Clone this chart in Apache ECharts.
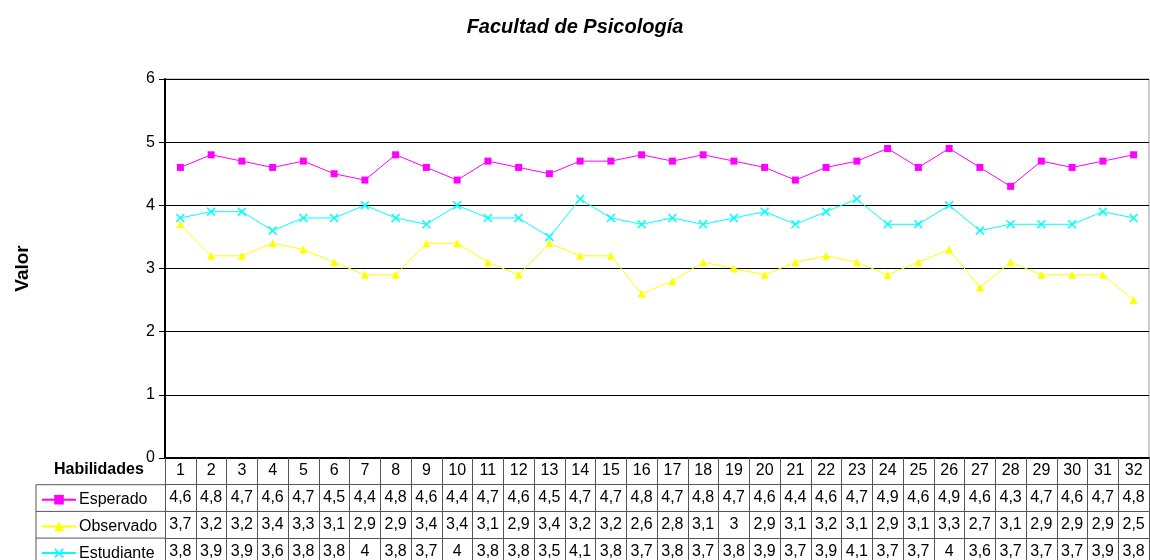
<!DOCTYPE html>
<html>
<head>
<meta charset="utf-8">
<script src="https://cdn.jsdelivr.net/npm/echarts@6/dist/echarts.min.js"></script>
<style>
  html, body { margin: 0; padding: 0; background: #fff; }
  #main { width: 1150px; height: 560px; }
</style>
</head>
<body>
<div id="main"></div>
<script>
let mychart = echarts.init(document.getElementById('main'));

let habilidades = []
for (let i = 1; i <= 32; i++) habilidades.push(String(i))

let seriesNames = ['Esperado', 'Observado', 'Estudiante']
let esperado = [4.6, 4.8, 4.7, 4.6, 4.7, 4.5, 4.4, 4.8, 4.6, 4.4, 4.7, 4.6, 4.5, 4.7, 4.7, 4.8,
    4.7, 4.8, 4.7, 4.6, 4.4, 4.6, 4.7, 4.9, 4.6, 4.9, 4.6, 4.3, 4.7, 4.6, 4.7, 4.8]
let observado = [3.7, 3.2, 3.2, 3.4, 3.3, 3.1, 2.9, 2.9, 3.4, 3.4, 3.1, 2.9, 3.4, 3.2, 3.2, 2.6,
    2.8, 3.1, 3, 2.9, 3.1, 3.2, 3.1, 2.9, 3.1, 3.3, 2.7, 3.1, 2.9, 2.9, 2.9, 2.5]
let estudiante = [3.8, 3.9, 3.9, 3.6, 3.8, 3.8, 4, 3.8, 3.7, 4, 3.8, 3.8, 3.5, 4.1, 3.8, 3.7,
    3.8, 3.7, 3.8, 3.9, 3.7, 3.9, 4.1, 3.7, 3.7, 4, 3.6, 3.7, 3.7, 3.7, 3.9, 3.8]

let font = 'Arial, "Liberation Sans", sans-serif'
let crossIcon = 'path://M0,1.2L1.2,0L5,3.8L8.8,0L10,1.2L6.2,5L10,8.8L8.8,10L5,6.2L1.2,10L0,8.8L3.8,5Z'

// grid geometry
let gLeft = 165, gRight = 1, gTop = 79, gBottom = 102
let axisY = 560 - gBottom
let rowH = 26.7
let fmt = v => String(v).replace('.', ',')

// one category axis per table row, stacked under the plot
function tableAxis(offset, tickLen, values, lineColor) {
    return {
        type: 'category',
        data: habilidades,
        position: 'bottom',
        offset: offset,
        boundaryGap: true,
        axisLine: { show: true, lineStyle: { color: lineColor, width: 1 } },
        axisTick: { show: true, interval: 0, length: tickLen, lineStyle: { color: '#555' } },
        axisLabel: {
            interval: 0,
            margin: 5,
            fontFamily: font,
            fontSize: 16,
            color: '#000',
            formatter: values ? (v, i) => fmt(values[i]) : null
        },
        splitLine: { show: false }
    }
}

function legendRow(name, i) {
    return {
        orient: 'horizontal',
        left: 36,
        top: axisY + rowH * (i + 1) + 2,
        itemWidth: 34,
        itemHeight: 12,
        itemGap: 0,
        textStyle: { fontFamily: font, fontSize: 16, color: '#000', padding: [0, 0, 0, -2] },
        data: [name]
    }
}

let option = {
    animation: false,
    backgroundColor: '#fff',
    title: {
        text: 'Facultad de Psicología',
        left: 'center',
        top: 12,
        textStyle: { fontFamily: font, fontSize: 20, fontWeight: 'bold', fontStyle: 'italic', color: '#000' }
    },
    legend: seriesNames.map(legendRow),
    grid: {
        left: gLeft, right: gRight, top: gTop, bottom: gBottom,
        show: true, borderColor: '#999', borderWidth: 1
    },
    xAxis: [
        Object.assign(tableAxis(0, rowH, null, '#000'), {
            axisLine: { show: true, lineStyle: { color: '#000', width: 2 } }
        }),
        tableAxis(rowH, rowH, esperado, '#555'),
        tableAxis(rowH * 2, rowH, observado, '#555'),
        tableAxis(rowH * 3, 24, estudiante, '#555')
    ],
    yAxis: {
        type: 'value',
        min: 0,
        max: 6,
        interval: 1,
        name: 'Valor',
        nameLocation: 'middle',
        nameGap: 133,
        nameTextStyle: { fontFamily: font, fontSize: 19, fontWeight: 'bold', color: '#000' },
        axisLine: { show: true, lineStyle: { color: '#000', width: 2 } },
        axisTick: { show: true, length: 6, lineStyle: { color: '#000' } },
        axisLabel: { fontFamily: font, fontSize: 16, color: '#000', margin: 10 },
        splitLine: { show: true, lineStyle: { color: '#000', width: 1 } }
    },
    series: [
        {
            name: 'Esperado',
            type: 'line',
            data: esperado,
            symbol: 'rect',
            symbolSize: 7,
            itemStyle: { color: '#ff00ff' },
            lineStyle: { color: '#ff00ff', width: 1 }
        },
        {
            name: 'Observado',
            type: 'line',
            data: observado,
            symbol: 'triangle',
            symbolSize: 8,
            itemStyle: { color: '#ffff00' },
            lineStyle: { color: '#ffff00', width: 1 }
        },
        {
            name: 'Estudiante',
            type: 'line',
            data: estudiante,
            symbol: crossIcon,
            symbolSize: 9,
            itemStyle: { color: '#00ffff' },
            lineStyle: { color: '#00ffff', width: 1 }
        }
    ],
    graphic: [
        {
            type: 'text',
            left: 54,
            top: 462,
            style: { text: 'Habilidades', font: 'bold 16px ' + font, fill: '#000' }
        },
        // legend column borders
        { type: 'line', shape: { x1: 36, y1: axisY + rowH, x2: gLeft, y2: axisY + rowH }, style: { stroke: '#555' } },
        { type: 'line', shape: { x1: 36, y1: axisY + rowH * 2, x2: gLeft, y2: axisY + rowH * 2 }, style: { stroke: '#555' } },
        { type: 'line', shape: { x1: 36, y1: axisY + rowH * 3, x2: gLeft, y2: axisY + rowH * 3 }, style: { stroke: '#555' } },
        { type: 'line', shape: { x1: 36, y1: axisY + rowH, x2: 36, y2: 560 }, style: { stroke: '#555' } }
    ]
};
mychart.setOption(option);
</script>
</body>
</html>
